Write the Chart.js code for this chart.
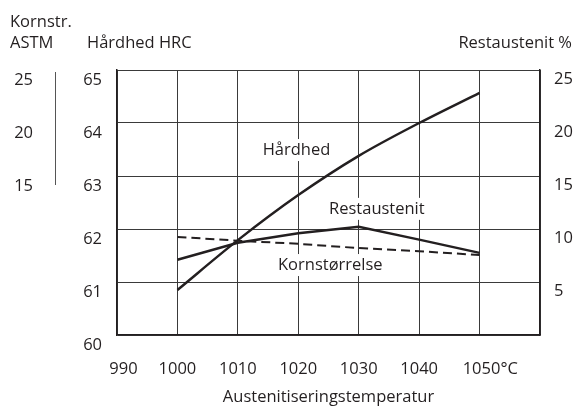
<!DOCTYPE html>
<html>
<head>
<meta charset="utf-8">
<script src="https://cdn.jsdelivr.net/npm/chart.js@4.4.1/dist/chart.umd.min.js"></script>
<style>
  html, body { margin: 0; padding: 0; background: #fff; }
  #wrap { width: 575px; height: 407px; }
</style>
</head>
<body>
<div id="wrap"><canvas id="mycanvas"></canvas></div>
<script>
// temperatures (°C)
var temps = [1000, 1010, 1020, 1030, 1040, 1050];
// hardness HRC (left axis)
var haardhed = [60.85, 61.79, 62.64, 63.38, 64.0, 64.57];
// retained austenite % (right axis)
var restaustenit = [7.1, 8.7, 9.6, 10.2, 9.0, 7.75];
// grain size ASTM (far left axis)
var kornstorrelse = [9.25, 8.9, 8.6, 8.2, 7.9, 7.55];

var tempTicks = [990, 1000, 1010, 1020, 1030, 1040, 1050, 1060];
var kornTicks = [15, 20, 25];
var hrcTicks = [60, 61, 62, 63, 64, 65];
var restTicks = [5, 10, 15, 20, 25];

var ink = '#231f20';
var fontFam = "'Open Sans', sans-serif";
var fontSize = 16.5;

function pts(ys) {
	var out = [];
	for (var i in temps) {
		out.push({x: temps[i], y: ys[i]});
	}
	return out;
}

function tickList(arr) {
	return arr.map(function(v) { return {value: v}; });
}

var chartdata = {
	datasets: [
		{
			label: 'Hårdhed',
			data: pts(haardhed),
			yAxisID: 'y',
			borderColor: ink,
			borderWidth: 2.5,
			pointRadius: 0,
			cubicInterpolationMode: 'monotone'
		},
		{
			label: 'Restaustenit',
			data: pts(restaustenit),
			yAxisID: 'yR',
			borderColor: ink,
			borderWidth: 2.5,
			pointRadius: 0,
			tension: 0
		},
		{
			label: 'Kornstørrelse',
			data: pts(kornstorrelse),
			yAxisID: 'yK',
			borderColor: ink,
			borderWidth: 2,
			borderDash: [9, 5],
			pointRadius: 0,
			tension: 0
		}
	]
};

// text labels inside the plot, placed in data units
var inlineLabels = [
	{text: 'Hårdhed', x: 1019.7, y: 63.49},
	{text: 'Restaustenit', x: 1033, y: 62.38},
	{text: 'Kornstørrelse', x: 1025.3, y: 61.32}
];

var extras = {
	id: 'extras',
	beforeDatasetsDraw: function(chart) {
		var ctx = chart.ctx;
		var sx = chart.scales.x, sy = chart.scales.y;
		ctx.save();
		ctx.font = fontSize + 'px ' + fontFam;
		ctx.textAlign = 'center';
		ctx.textBaseline = 'middle';
		inlineLabels.forEach(function(l) {
			var px = sx.getPixelForValue(l.x), py = sy.getPixelForValue(l.y);
			var w = ctx.measureText(l.text).width;
			ctx.fillStyle = '#fff';
			ctx.fillRect(px - w / 2 - 3, py - 11, w + 6, 22);
			ctx.fillStyle = ink;
			ctx.fillText(l.text, px, py);
		});
		ctx.restore();
	},
	afterDraw: function(chart) {
		var ctx = chart.ctx;
		var sk = chart.scales.yK;
		ctx.save();
		// short axis line for the grain size scale
		ctx.strokeStyle = '#555';
		ctx.lineWidth = 1;
		ctx.beginPath();
		ctx.moveTo(55.5, sk.getPixelForValue(25) + 2);
		ctx.lineTo(55.5, sk.getPixelForValue(15) + 9);
		ctx.stroke();
		// axis titles at the top
		ctx.fillStyle = ink;
		ctx.font = fontSize + 'px ' + fontFam;
		ctx.textBaseline = 'middle';
		ctx.textAlign = 'left';
		ctx.fillText('Kornstr.', 10, 22);
		ctx.fillText('ASTM', 10, 43);
		ctx.fillText('Hårdhed HRC', 87, 43);
		ctx.textAlign = 'right';
		ctx.fillText('Restaustenit %', 572, 43);
		ctx.restore();
	}
};

var ctx = document.getElementById('mycanvas');

var lineGraph = new Chart(ctx, {
	type: 'line',
	data: chartdata,
	plugins: [extras],
	options: {
		responsive: true,
		maintainAspectRatio: false,
		animation: false,
		layout: { padding: { top: 70, left: 0, right: 0, bottom: 0 } },
		plugins: {
			legend: { display: false },
			tooltip: { enabled: false }
		},
		scales: {
			x: {
				type: 'linear',
				min: 990,
				max: 1060,
				afterFit: function(s) { s.height = 72; },
				afterBuildTicks: function(s) { s.ticks = tickList(tempTicks); },
				grid: { color: '#3a3a3a', lineWidth: 1, drawTicks: false },
				border: { color: ink, width: 1.5 },
				ticks: {
					padding: 24,
					minRotation: 0,
					maxRotation: 0,
					autoSkip: false,
					color: ink,
					font: { family: fontFam, size: fontSize },
					callback: function(v) {
						if (v === 1060) return '';
						if (v === 1050) return '     1050°C';
						if (v === 990) return '   990';
						return String(v);
					}
				},
				title: {
					display: true,
					text: 'Austenitiseringstemperatur',
					color: ink,
					font: { family: fontFam, size: fontSize },
					padding: { top: 0, bottom: 0 }
				}
			},
			y: {
				position: 'left',
				weight: 0,
				min: 60,
				max: 65,
				afterFit: function(s) { s.width = 57; },
				afterBuildTicks: function(s) { s.ticks = tickList(hrcTicks); },
				grid: { color: '#3a3a3a', lineWidth: 1, drawTicks: false },
				border: { color: ink, width: 1.5 },
				ticks: {
					padding: 15,
					labelOffset: 10,
					color: ink,
					font: { family: fontFam, size: fontSize }
				}
			},
			yK: {
				position: 'left',
				weight: 1,
				min: 0,
				max: 25,
				afterFit: function(s) { s.width = 60; },
				afterBuildTicks: function(s) { s.ticks = tickList(kornTicks); },
				grid: { display: false, drawTicks: false },
				border: { display: false },
				ticks: {
					padding: 27,
					labelOffset: 10,
					color: ink,
					font: { family: fontFam, size: fontSize }
				}
			},
			yR: {
				position: 'right',
				min: 0,
				max: 25,
				afterFit: function(s) { s.width = 35; },
				afterBuildTicks: function(s) { s.ticks = tickList(restTicks); },
				grid: { display: false, drawTicks: false },
				border: { color: ink, width: 1.5 },
				ticks: {
					padding: 14,
					labelOffset: 9,
					color: ink,
					font: { family: fontFam, size: fontSize }
				}
			}
		}
	}
});
</script>
</body>
</html>
